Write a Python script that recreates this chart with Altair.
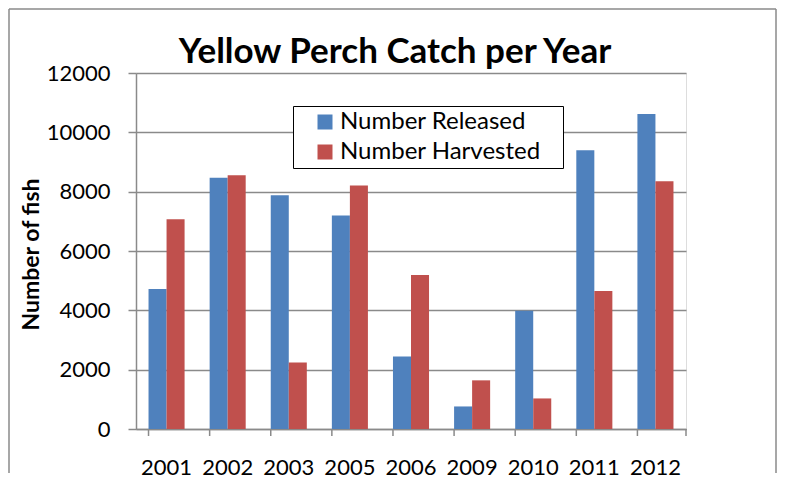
import altair as alt
import pandas as pd

years = ["2001", "2002", "2003", "2005", "2006", "2009", "2010", "2011", "2012"]
released = [4720, 8470, 7880, 7200, 2440, 760, 3990, 9400, 10620]
harvested = [7070, 8550, 2240, 8210, 5190, 1640, 1030, 4650, 8350]
series = ["Number Released", "Number Harvested"]
colors = ["#4F81BD", "#C0504D"]
y_ticks = [0, 2000, 4000, 6000, 8000, 10000, 12000]
title_text = "Yellow Perch Catch per Year"

df = pd.DataFrame({
    "year": years * 2,
    "series": [series[0]] * len(years) + [series[1]] * len(years),
    "value": released + harvested,
})
years_df = pd.DataFrame({"year": years})
one = pd.DataFrame({"a": [0]})

W, H = 550, 356
GRAY = "#8A8A8A"
FONT = "Lato"

xscale = alt.Scale(domain=years, paddingInner=0.41, paddingOuter=0.205)

bars = alt.Chart(df).mark_bar().encode(
    x=alt.X("year:N", sort=years, scale=xscale,
            axis=alt.Axis(title=None, ticks=False, domain=True, domainColor=GRAY,
                          domainWidth=1.5, labelFont=FONT, labelFontSize=22,
                          labelColor="black", labelPadding=28, labelAngle=0, grid=False)),
    xOffset=alt.XOffset("series:N", sort=series,
                        scale=alt.Scale(domain=series, paddingInner=0, paddingOuter=0)),
    y=alt.Y("value:Q", scale=alt.Scale(domain=[0, 12000], nice=False),
            axis=alt.Axis(values=y_ticks, format="d", title="Number of fish",
                          titleFont=FONT, titleFontSize=23, titleFontWeight="bold",
                          titleColor="black", titleX=-105, titleY=181,
                          titleAlign="center", titleBaseline="middle",
                          labelFont=FONT, labelFontSize=22, labelColor="black",
                          labelPadding=18, tickSize=8, tickColor=GRAY, tickWidth=1.5,
                          grid=True, gridColor=GRAY, gridWidth=1.5,
                          domainColor=GRAY, domainWidth=1.5)),
    color=alt.Color("series:N", scale=alt.Scale(domain=series, range=colors),
                    legend=alt.Legend(title=None, orient="none", legendX=157, legendY=33,
                                      direction="vertical", strokeColor="black",
                                      fillColor="white", padding=4, symbolType="square",
                                      symbolSize=225, symbolStrokeWidth=0, symbolOffset=16,
                                      labelFont=FONT, labelFontSize=24, labelColor="black",
                                      labelOffset=3, rowPadding=6, labelLimit=400,
                                      labelExpr="datum.label + '\u2800'")),
)

xticks = alt.Chart(years_df).mark_rule(color=GRAY, strokeWidth=1.5).encode(
    x=alt.X("year:N", sort=years, bandPosition=0),
    y=alt.value(H), y2=alt.value(H + 7),
)
last_tick = alt.Chart(one).mark_rule(color=GRAY, strokeWidth=1.5).encode(
    x=alt.value(W), y=alt.value(H), y2=alt.value(H + 7),
)

border_left = alt.Chart(one).mark_rule(color=GRAY, strokeWidth=1.5).encode(
    x=alt.value(-127), y=alt.value(-64), y2=alt.value(400))
border_right = alt.Chart(one).mark_rule(color=GRAY, strokeWidth=1.5).encode(
    x=alt.value(640), y=alt.value(-64), y2=alt.value(400))
border_top = alt.Chart(one).mark_rule(color=GRAY, strokeWidth=1.5).encode(
    x=alt.value(-127), x2=alt.value(640), y=alt.value(-64))

title = alt.Chart(one).mark_text(text=title_text, font=FONT, fontSize=35, fontWeight="bold",
                                 color="black", align="center", baseline="alphabetic").encode(
    x=alt.value(259), y=alt.value(-10))

chart = alt.layer(bars, xticks, last_tick, border_left, border_right, border_top, title).properties(
    width=W, height=H, padding=0
).configure_view(stroke=None).configure(background="white")

chart.save("out.html", embed_options={"renderer": "svg", "actions": False})
